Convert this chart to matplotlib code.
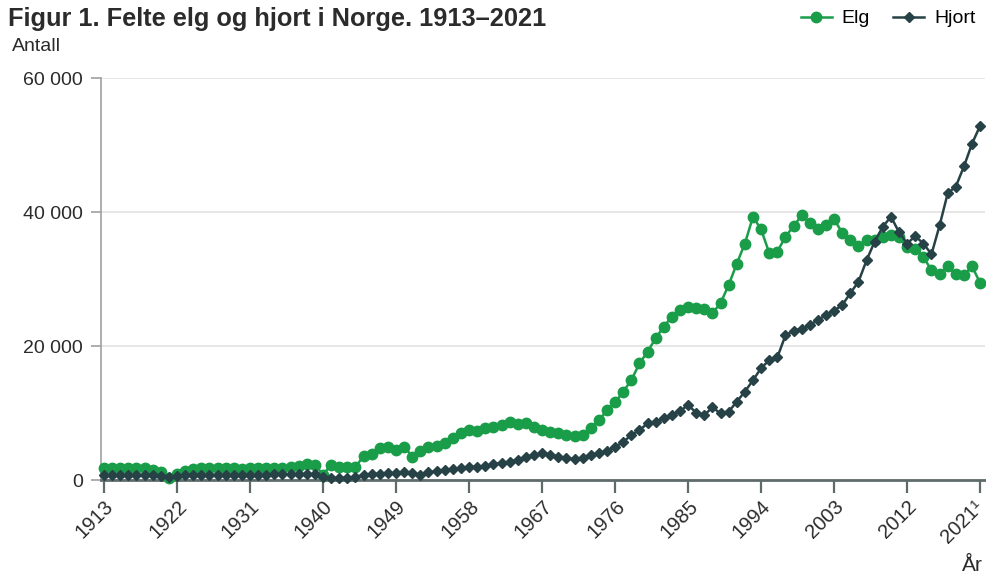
import numpy as np
import matplotlib.pyplot as plt
from matplotlib.ticker import FuncFormatter

plt.rcParams['font.family'] = ['Liberation Sans', 'DejaVu Sans']

# years 1913-2021
years = list(range(1913, 2022))

# felte elg
elg = [
    1800, 1750, 1800, 1850, 1800, 1750, 1550,              # 1913-1919
    1200, 300, 900, 1400, 1600, 1800, 1850, 1800, 1800, 1750,  # 1920-1929
    1700, 1750, 1800, 1800, 1750, 1850, 1950, 2100, 2350, 2300,  # 1930-1939
    800, 2300, 2000, 1900, 1950, 3600, 3900, 4800, 4900, 4500,   # 1940-1949
    5000, 3500, 4400, 4900, 5100, 5500, 6300, 7000, 7400, 7350,  # 1950-1959
    7700, 7950, 8200, 8650, 8350, 8500, 7950, 7450, 7200, 6950,  # 1960-1969
    6700, 6550, 6700, 7750, 8900, 10400, 11600, 13200, 14900, 17400,  # 1970-1979
    19150, 21150, 22900, 24400, 25400, 25800, 25750, 25600, 24900, 26400,  # 1980-1989
    29100, 32300, 35300, 39300, 37400, 33900, 34100, 36300, 37900, 39500,  # 1990-1999
    38400, 37500, 38000, 38900, 36900, 35900, 34900, 35900, 35800, 36300,  # 2000-2009
    36500, 36200, 34800, 34500, 33300, 31300, 30800, 31900, 30700, 30600,  # 2010-2019
    31900, 29400,                                           # 2020-2021
]

# felte hjort
hjort = [
    750, 800, 800, 800, 800, 800, 750,                       # 1913-1919
    600, 400, 550, 750, 800, 800, 800, 800, 800, 800,        # 1920-1929
    800, 800, 800, 800, 850, 850, 850, 850, 850, 850,        # 1930-1939
    400, 300, 350, 350, 400, 800, 900, 950, 1000, 1050,      # 1940-1949
    1200, 1000, 800, 1200, 1300, 1500, 1650, 1750, 1900, 2000,  # 1950-1959
    2100, 2400, 2500, 2750, 3000, 3400, 3700, 4000, 3800, 3500,  # 1960-1969
    3250, 3100, 3250, 3700, 4000, 4400, 4900, 5700, 6700, 7450,  # 1970-1979
    8450, 8700, 9200, 9700, 10300, 11200, 10050, 9700, 10850, 9950,  # 1980-1989
    10200, 11700, 13200, 14900, 16700, 17900, 18300, 21600, 22300, 22600,  # 1990-1999
    23100, 23900, 24600, 25300, 26100, 27900, 29600, 32800, 35600, 37800,  # 2000-2009
    39300, 37000, 35300, 36400, 35300, 33700, 38000, 42800, 43800, 46800,  # 2010-2019
    50200, 52900,                                            # 2020-2021
]

tick_years = list(range(1913, 2022, 9))
tick_labels = [str(y) for y in tick_years[:-1]] + ['']
last_label = '2021\u00b9'

green = '#1a9d49'
dark = '#274247'
txt = '#2b2b2b'

fig = plt.figure(figsize=(9.87, 5.77), dpi=100)
ax = fig.add_axes([0.1023, 0.168, 0.8957, 0.6968])

ax.plot(years, elg, color=green, lw=1.8, marker='o', ms=7.5, label='Elg', clip_on=False, zorder=3)
ax.plot(years, hjort, color=dark, lw=1.8, marker='D', ms=5.5, label='Hjort', clip_on=False, zorder=4)

ax.set_xlim(1912.63, 2021.6)
ax.set_ylim(0, 60000)
ax.set_yticks([0, 20000, 40000, 60000])
ax.yaxis.set_major_formatter(FuncFormatter(lambda v, p: f'{int(v):,}'.replace(',', ' ')))
ax.set_xticks(tick_years)
ax.set_xticklabels(tick_labels, rotation=45, ha='right', rotation_mode='anchor')

# last label with footnote mark, pulled a little left so it stays inside
ax.annotate(last_label, xy=(tick_years[-1], 0), xycoords=('data', 'axes fraction'),
            xytext=(-5, -12), textcoords='offset points', rotation=45,
            rotation_mode='anchor', ha='right', va='top', fontsize=14.5, color=txt,
            annotation_clip=False)

ax.grid(axis='y', color='#e2e2e2', lw=1.2)
ax.set_axisbelow(True)
for s in ['top', 'right']:
    ax.spines[s].set_visible(False)
ax.spines['left'].set_color('#a0a0a0')
ax.spines['left'].set_linewidth(1.2)
ax.spines['bottom'].set_color('#5f6b6b')
ax.spines['bottom'].set_linewidth(2)
ax.tick_params(axis='y', length=7, width=1.2, color='#a0a0a0', labelsize=14, labelcolor=txt, pad=6)
ax.tick_params(axis='x', length=9, width=1.6, color='#5f6b6b', labelsize=14.5, labelcolor=txt, pad=3)

fig.text(0.008, 0.988, 'Figur 1. Felte elg og hjort i Norge. 1913\u20132021',
         fontsize=18.3, fontweight='bold', va='top', ha='left', color=txt)
fig.text(0.012, 0.935, 'Antall', fontsize=14, va='top', ha='left', color=txt)
fig.text(0.996, 0.004, 'År', fontsize=15, va='bottom', ha='right', color=txt)

fig.legend(loc='upper right', bbox_to_anchor=(0.998, 1.0), ncol=2, frameon=False,
           fontsize=14, handlelength=1.6, columnspacing=1.2, handletextpad=0.5,
           borderaxespad=0.2, borderpad=0.3)

fig.savefig('out.png', dpi=100)
